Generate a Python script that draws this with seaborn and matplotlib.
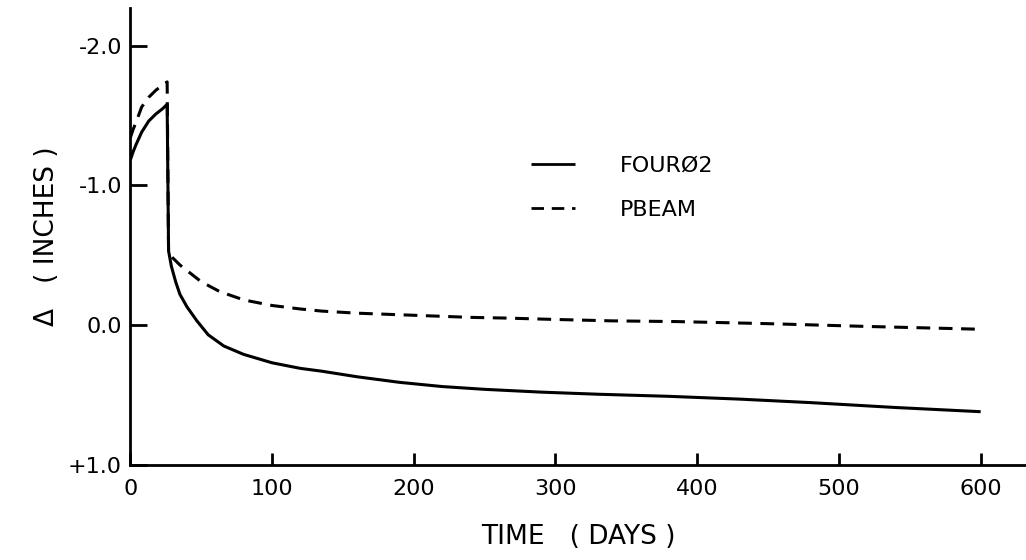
import pandas as pd
import matplotlib
matplotlib.use('Agg')
import matplotlib.pyplot as plt
import seaborn as sns

# ====================== Data ======================
four02_days = [0, 2, 4, 8, 13, 18, 23, 26, 27, 29, 32, 35, 40, 47, 55, 66, 80,
               100, 120, 135, 160, 190, 220, 250, 290, 330, 380, 430, 480, 540, 600]
four02_delta = [-1.18, -1.24, -1.29, -1.38, -1.46, -1.51, -1.55, -1.58, -0.53,
                -0.42, -0.31, -0.22, -0.13, -0.03, 0.07, 0.15, 0.21, 0.27, 0.31,
                0.33, 0.37, 0.41, 0.44, 0.46, 0.48, 0.495, 0.51, 0.53, 0.555,
                0.59, 0.62]

pbeam_days = [0, 2, 4, 8, 13, 18, 23, 26, 27, 30, 35, 40, 50, 63, 80, 100, 120,
              135, 160, 200, 240, 265, 300, 340, 385, 450, 520, 600]
pbeam_delta = [-1.34, -1.40, -1.45, -1.56, -1.63, -1.68, -1.72, -1.74, -0.52,
               -0.48, -0.43, -0.39, -0.31, -0.24, -0.18, -0.14, -0.115, -0.10,
               -0.085, -0.07, -0.055, -0.05, -0.04, -0.03, -0.025, -0.01, 0.01, 0.03]

series_names = ['FOURØ2', 'PBEAM']
x_ticks = [0, 100, 200, 300, 400, 500, 600]
y_ticks = [-2.0, -1.0, 0.0, 1.0]
y_tick_labels = ['-2.0', '-1.0', '0.0', '+1.0']

df = pd.DataFrame({
    'Time': four02_days + pbeam_days,
    'Delta': four02_delta + pbeam_delta,
    'Program': [series_names[0]] * len(four02_days) + [series_names[1]] * len(pbeam_days),
})

# ====================== Canvas ======================
sns.set_style('ticks')
plt.rcParams['font.family'] = ['DejaVu Sans']
plt.rcParams['text.color'] = 'black'
plt.rcParams['axes.labelcolor'] = 'black'
fig = plt.figure(figsize=(10.26, 5.6), dpi=100)
ax = fig.add_axes([0.127, 0.17, 0.873, 0.816])

sns.lineplot(data=df, x='Time', y='Delta', hue='Program', style='Program',
             palette=['black', 'black'], dashes=[(1, 0), (4.5, 2.8)],
             linewidth=2.2, sort=False, estimator=None, ax=ax)

# ====================== Axes styling ======================
ax.set_xlim(0, 632)
ax.set_ylim(1.0, -2.27)
ax.set_xticks(x_ticks)
ax.set_yticks(y_ticks)
ax.set_yticklabels(y_tick_labels)
ax.tick_params(axis='both', direction='in', width=2, labelsize=16, colors='black')
ax.tick_params(axis='x', length=9, pad=10)
ax.tick_params(axis='y', length=12, pad=6)
for side in ['top', 'right']:
    ax.spines[side].set_visible(False)
for side in ['left', 'bottom']:
    ax.spines[side].set_linewidth(2)
    ax.spines[side].set_color('black')

ax.set_xlabel('TIME   ( DAYS )', fontsize=19, labelpad=18)
ax.set_ylabel('Δ   ( INCHES )', fontsize=19, labelpad=6)

leg = ax.legend(loc='upper left', bbox_to_anchor=(0.425, 0.72), frameon=False,
                fontsize=16, handlelength=2.0, handletextpad=2.0, labelspacing=1.1)
for line in leg.get_lines():
    line.set_linewidth(2)
for t in leg.get_texts():
    t.set_color('black')

fig.savefig('out.png', dpi=100)
